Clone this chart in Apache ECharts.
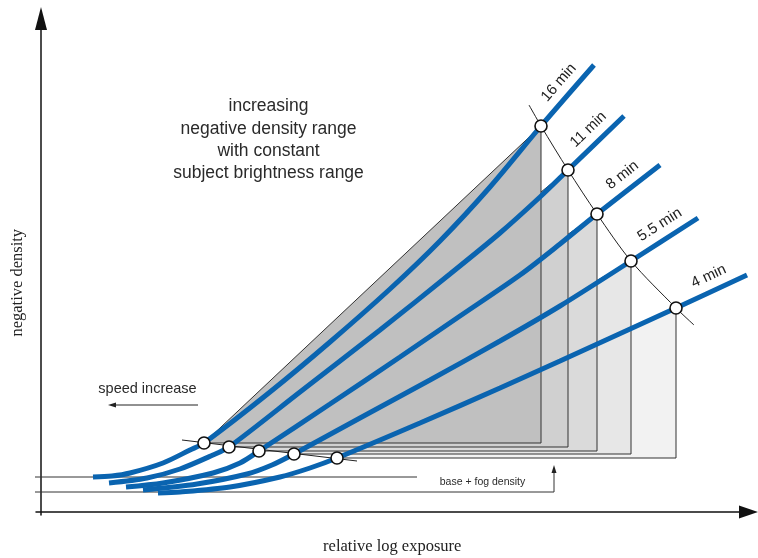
<!DOCTYPE html>
<html><head><meta charset="utf-8">
<script src="https://cdn.jsdelivr.net/npm/echarts@6/dist/echarts.min.js"></script>
<style>html,body{margin:0;padding:0;background:#fff}#c{width:758px;height:558px}</style>
</head><body><div id="c"></div>
<script>
// ---- data (x: relative log exposure, y: negative density) ----
const exposureTimes = ['16 min', '11 min', '8 min', '5.5 min', '4 min'];
const curve16min = [[0.260,0.175],[0.355,0.180],[0.445,0.195],[0.610,0.245],[0.745,0.310],[0.815,0.345],[1.145,0.600],[1.445,0.850],[1.745,1.115],[1.995,1.355],[2.245,1.625],[2.500,1.930],[2.765,2.235]];
const curve11min = [[0.340,0.145],[0.530,0.170],[0.695,0.215],[0.860,0.285],[0.940,0.325],[1.295,0.600],[1.695,0.910],[2.045,1.190],[2.295,1.395],[2.495,1.575],[2.635,1.710],[2.915,1.980]];
const curve8min = [[0.425,0.125],[0.610,0.145],[0.860,0.195],[0.995,0.245],[1.090,0.305],[1.445,0.540],[1.795,0.775],[2.095,0.980],[2.395,1.185],[2.595,1.340],[2.780,1.490],[3.095,1.735]];
const curve5_5min = [[0.510,0.110],[0.780,0.140],[1.030,0.190],[1.155,0.235],[1.265,0.290],[1.595,0.470],[1.945,0.660],[2.295,0.855],[2.595,1.030],[2.950,1.255],[3.285,1.470]];
const curve4min = [[0.585,0.095],[0.695,0.100],[0.945,0.125],[1.195,0.175],[1.345,0.220],[1.480,0.270],[1.895,0.445],[2.295,0.620],[2.595,0.755],[3.175,1.020],[3.530,1.185]];
const toePoints = [[0.815,0.345],[0.940,0.325],[1.090,0.305],[1.265,0.290],[1.480,0.270]];
const shoulderPoints = [[2.500,1.930],[2.635,1.710],[2.780,1.490],[2.950,1.255],[3.175,1.020]];
const toeSecant = [[0.705,0.360],[1.580,0.255]];
const shoulderSecant = [[2.440,2.035],[2.500,1.930],[2.635,1.710],[2.780,1.490],[2.950,1.255],[3.175,1.020],[3.265,0.935]];
const fogLineHigh = [[-0.065,0.175],[1.880,0.175]];
const fogLineLow = [[-0.065,0.100],[2.565,0.100],[2.565,0.215]];
const speedArrow = [[0.785,0.535],[0.355,0.535]];

// ---- styles ----
const curves = [curve16min, curve11min, curve8min, curve5_5min, curve4min];
const shades = ['#c0c0c0', '#d0d0d0', '#dadada', '#e7e7e7', '#f2f2f2'];
const blue = '#0a64b0';
const sans = '"Liberation Sans", Arial, sans-serif';
const serif = '"Liberation Serif", "Times New Roman", serif';

const chart = echarts.init(document.getElementById('c'), null, {renderer: 'canvas'});

function withArrow(pts, rot, size) {
  return pts.map((p, i) => i === pts.length - 1
    ? {value: p, symbol: 'triangle', symbolSize: size, symbolRotate: rot}
    : {value: p});
}

const series = [];
// shaded triangles (back to front: 4 min first)
const triData = [];
for (let i = curves.length - 1; i >= 0; i--) {
  triData.push([toePoints[i][0], toePoints[i][1], shoulderPoints[i][0], shoulderPoints[i][1], i]);
}
series.push({
  type: 'custom', z: 1, silent: true, animation: false,
  encode: {x: [0, 2], y: [1, 3]},
  data: triData,
  renderItem: function (params, api) {
    const lo = api.coord([api.value(0), api.value(1)]);
    const up = api.coord([api.value(2), api.value(3)]);
    return {
      type: 'polygon',
      shape: {points: [lo, up, [up[0], lo[1]]]},
      style: {fill: shades[api.value(4)], stroke: '#333', lineWidth: 1}
    };
  }
});
// thin lines
const thin = {type: 'line', z: 2, silent: true, animation: false, symbol: 'none', showSymbol: true,
  clip: false, lineStyle: {color: '#222', width: 1}, itemStyle: {color: '#222', opacity: 1}};
series.push(Object.assign({}, thin, {data: fogLineHigh, lineStyle: {color: '#333', width: 1}}));
series.push(Object.assign({}, thin, {data: withArrow(fogLineLow, 0, [5, 8]), lineStyle: {color: '#333', width: 1}}));
series.push(Object.assign({}, thin, {data: withArrow(speedArrow, 90, [5, 8])}));
series.push(Object.assign({}, thin, {data: toeSecant}));
series.push(Object.assign({}, thin, {data: shoulderSecant, smooth: 0.3}));
// characteristic curves
curves.forEach((c, i) => {
  series.push({
    type: 'line', name: exposureTimes[i], z: 3, silent: true, animation: false,
    symbol: 'none', smooth: 0.3, clip: false,
    lineStyle: {color: blue, width: 5, cap: 'butt'},
    data: c
  });
});
// circles
series.push({
  type: 'scatter', z: 4, silent: true, animation: false,
  symbol: 'circle', symbolSize: 12,
  itemStyle: {color: '#fff', borderColor: '#111', borderWidth: 1.6, opacity: 1},
  data: toePoints.concat(shoulderPoints)
});
// curve labels
series.push({
  type: 'custom', z: 5, silent: true, animation: false,
  encode: {x: 0, y: 1},
  data: shoulderPoints.map((p, i) => [p[0], p[1], i]),
  renderItem: function (params, api) {
    const i = api.value(2);
    const sh = api.coord([api.value(0), api.value(1)]);
    const last = curves[i][curves[i].length - 1];
    const end = api.coord(last);
    const dx = end[0] - sh[0], dy = end[1] - sh[1];
    const len = Math.sqrt(dx * dx + dy * dy);
    const nx = dy / len, ny = -dx / len;
    const t = 0.55, off = 15;
    return {
      type: 'text',
      x: sh[0] + t * dx + nx * off,
      y: sh[1] + t * dy + ny * off,
      rotation: Math.atan2(-dy, dx),
      style: {text: exposureTimes[i], fill: '#222', font: '15px ' + sans, align: 'center', verticalAlign: 'middle'}
    };
  }
});

chart.setOption({
  animation: false,
  backgroundColor: '#fff',
  grid: {left: 36, right: 9.5, top: 18.5, bottom: 43, containLabel: false, outerBoundsMode: 'none'},
  xAxis: {
    type: 'value', min: -0.025, max: 3.5375,
    name: 'relative log exposure', nameLocation: 'middle', nameGap: 23,
    nameTextStyle: {fontFamily: serif, fontSize: 16.5, color: '#222'},
    axisLine: {onZero: true, lineStyle: {color: '#111', width: 1.5}, symbol: ['none', 'triangle'], symbolSize: [13, 19]},
    axisTick: {show: false}, axisLabel: {show: false}, splitLine: {show: false}
  },
  yAxis: {
    type: 'value', min: -0.015, max: 2.4675,
    name: 'negative density', nameLocation: 'middle', nameGap: 10,
    nameTextStyle: {fontFamily: serif, fontSize: 16.5, color: '#222', padding: [0, 32, 0, 0]},
    axisLine: {onZero: true, lineStyle: {color: '#111', width: 1.5}, symbol: ['none', 'triangle'], symbolSize: [12, 23]},
    axisTick: {show: false}, axisLabel: {show: false}, splitLine: {show: false}
  },
  graphic: [
    {type: 'text', x: 268.5, y: 106, silent: true, style: {text: 'increasing', font: '17.5px ' + sans, fill: '#2a2a2a', align: 'center', verticalAlign: 'middle'}},
    {type: 'text', x: 268.5, y: 129, silent: true, style: {text: 'negative density range', font: '17.5px ' + sans, fill: '#2a2a2a', align: 'center', verticalAlign: 'middle'}},
    {type: 'text', x: 268.5, y: 151.5, silent: true, style: {text: 'with constant', font: '17.5px ' + sans, fill: '#2a2a2a', align: 'center', verticalAlign: 'middle'}},
    {type: 'text', x: 268.5, y: 173.5, silent: true, style: {text: 'subject brightness range', font: '17.5px ' + sans, fill: '#2a2a2a', align: 'center', verticalAlign: 'middle'}},
    {type: 'text', x: 147.5, y: 389, silent: true, style: {text: 'speed increase', font: '14.5px ' + sans, fill: '#2a2a2a', align: 'center', verticalAlign: 'middle'}},
    {type: 'text', x: 482.5, y: 482, silent: true, style: {text: 'base + fog density', font: '10.5px ' + sans, fill: '#2a2a2a', align: 'center', verticalAlign: 'middle'}}
  ],
  series: series
});
</script>
</body></html>
